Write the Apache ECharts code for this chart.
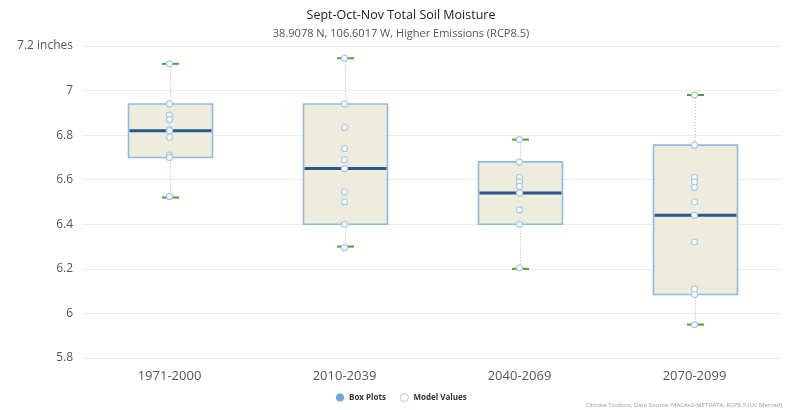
<!DOCTYPE html>
<html>
<head>
<meta charset="utf-8">
<script src="https://cdn.jsdelivr.net/npm/echarts@6/dist/echarts.min.js"></script>
<style>
  html, body { margin: 0; padding: 0; background: #fff; }
  #chart { width: 802px; height: 410px; }
</style>
</head>
<body>
<div id="chart"></div>
<script>
// Time periods on the x axis
var periods = ['1971-2000', '2010-2039', '2040-2069', '2070-2099'];

// Box statistics per period (inches)
var boxMin    = [6.52, 6.30, 6.20, 5.95];
var boxQ1     = [6.70, 6.40, 6.40, 6.085];
var boxMedian = [6.82, 6.65, 6.54, 6.44];
var boxQ3     = [6.94, 6.94, 6.68, 6.755];
var boxMax    = [7.12, 7.145, 6.78, 6.98];

// Individual model values per period (inches)
var models1971 = [7.12, 6.94, 6.89, 6.87, 6.825, 6.82, 6.79, 6.71, 6.70, 6.525];
var models2010 = [7.145, 6.94, 6.835, 6.74, 6.69, 6.65, 6.545, 6.50, 6.40, 6.295];
var models2040 = [6.78, 6.68, 6.61, 6.59, 6.57, 6.54, 6.465, 6.40, 6.205];
var models2070 = [6.98, 6.755, 6.61, 6.59, 6.565, 6.50, 6.44, 6.32, 6.11, 6.085, 5.95];
var modelValues = [models1971, models2010, models2040, models2070];

// Y axis ticks
var yMin = 5.8, yMax = 7.2, yStep = 0.2;
var yUnit = 'inches';

var boxData = periods.map(function (p, i) {
  return [i, boxMin[i], boxQ1[i], boxMedian[i], boxQ3[i], boxMax[i]];
});
var pointData = [];
modelValues.forEach(function (vals, i) {
  vals.forEach(function (v) { pointData.push([i, v]); });
});

var FONT = '"Open Sans", "DejaVu Sans", sans-serif';

function renderBox(params, api) {
  var x = api.value(0);
  var pMin = api.coord([x, api.value(1)]);
  var pQ1 = api.coord([x, api.value(2)]);
  var pMed = api.coord([x, api.value(3)]);
  var pQ3 = api.coord([x, api.value(4)]);
  var pMax = api.coord([x, api.value(5)]);
  var band = api.size([1, 0])[0];
  var halfW = band * 0.24;
  var capW = 8.5;
  var cx = Math.round(pMed[0]) + 0.5;
  var whisker = { stroke: '#e9a0a0', lineWidth: 1, lineDash: [1, 2] };
  var cap = { stroke: '#5a9a2e', lineWidth: 2 };
  return {
    type: 'group',
    children: [
      { type: 'line', shape: { x1: cx, y1: pMax[1], x2: cx, y2: pQ3[1] }, style: whisker },
      { type: 'line', shape: { x1: cx, y1: pQ1[1], x2: cx, y2: pMin[1] }, style: whisker },
      { type: 'line', shape: { x1: cx - capW, y1: pMax[1], x2: cx + capW, y2: pMax[1] }, style: cap },
      { type: 'line', shape: { x1: cx - capW, y1: pMin[1], x2: cx + capW, y2: pMin[1] }, style: cap },
      { type: 'rect', shape: { x: cx - halfW, y: pQ3[1], width: halfW * 2, height: pQ1[1] - pQ3[1] },
        style: { fill: '#edecdd', stroke: '#8dbbe6', lineWidth: 1.6 } },
      { type: 'line', shape: { x1: cx - halfW + 1, y1: pMed[1], x2: cx + halfW - 1, y2: pMed[1] },
        style: { stroke: '#27598c', lineWidth: 3 } }
    ]
  };
}

var chart = echarts.init(document.getElementById('chart'), null, { renderer: 'canvas' });
chart.setOption({
  animation: false,
  backgroundColor: '#fff',
  title: {
    text: 'Sept-Oct-Nov Total Soil Moisture',
    subtext: '38.9078 N, 106.6017 W, Higher Emissions (RCP8.5)',
    left: 'center',
    top: 4,
    itemGap: 6,
    textStyle: { fontFamily: FONT, fontSize: 12.5, fontWeight: 'normal', color: '#222' },
    subtextStyle: { fontFamily: FONT, fontSize: 11, color: '#555' }
  },
  legend: {
    left: 331,
    top: 388,
    itemWidth: 8,
    itemHeight: 8,
    itemGap: 14,
    textStyle: { fontFamily: FONT, fontSize: 8, fontWeight: 'bold', color: '#333' },
    data: [
      { name: 'Box Plots', icon: 'circle', itemStyle: { color: '#6aa6df' } },
      { name: 'Model Values', icon: 'circle',
        itemStyle: { color: '#fff', borderColor: '#a9c9ea', borderWidth: 1 } }
    ]
  },
  grid: { left: 82, right: 20, top: 46, bottom: 52 },
  xAxis: {
    type: 'category',
    data: periods,
    axisLine: { show: false },
    axisTick: { show: false },
    axisLabel: { fontFamily: FONT, fontSize: 13, color: '#555', margin: 12 },
    splitLine: { show: false }
  },
  yAxis: {
    type: 'value',
    min: yMin,
    max: yMax,
    interval: yStep,
    axisLine: { show: false },
    axisTick: { show: false },
    axisLabel: {
      fontFamily: FONT, fontSize: 12, color: '#555', margin: 9,
      formatter: function (v) {
        var s = String(Math.round(v * 10) / 10);
        return Math.abs(v - yMax) < 1e-9 ? s + ' ' + yUnit : s;
      }
    },
    splitLine: { lineStyle: { color: '#ececec', width: 1 } }
  },
  graphic: [{
    type: 'text',
    right: 20,
    bottom: 2,
    style: {
      text: 'Climate Toolbox, Data Source: MACAv2-METDATA, RCP8.5 (UC Merced)',
      fontFamily: FONT, fontSize: 6, fill: '#999'
    }
  }],
  series: [
    {
      name: 'Box Plots',
      type: 'custom',
      itemStyle: { color: '#6aa6df' },
      renderItem: renderBox,
      encode: { x: 0, y: [1, 2, 3, 4, 5] },
      data: boxData,
      z: 2
    },
    {
      name: 'Model Values',
      type: 'scatter',
      symbol: 'circle',
      symbolSize: 6,
      itemStyle: { color: '#fff', borderColor: '#a9c9ea', borderWidth: 1.2, opacity: 1 },
      data: pointData,
      z: 3
    }
  ]
});
</script>
</body>
</html>
